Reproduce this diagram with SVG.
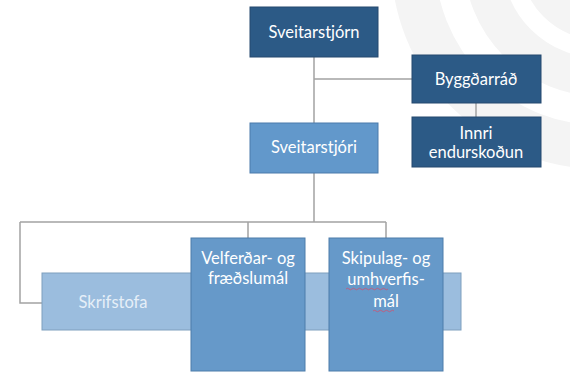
<svg xmlns="http://www.w3.org/2000/svg" width="570" height="373" viewBox="0 0 570 373">
<style>
.t{font-family:Lato,"Liberation Sans",sans-serif;font-size:16.5px;fill:#fff;text-anchor:middle}
.dark{fill:#2C5A86;stroke:#24496E;stroke-width:1}
.mid{fill:#6298CB;stroke:#4A7BAB;stroke-width:1}
.box{fill:#6699C9;stroke:#4C7CAA;stroke-width:1}
.light{fill:#9BBDDE;stroke:#7E9FBE;stroke-width:1}
.ln{fill:none;stroke:#A3A3A3;stroke-width:1.5}
.wm{fill:none;stroke:#F4F4F4}
</style>
<rect width="570" height="373" fill="#fff"/>
<g id="watermark">
<circle class="wm" cx="600" cy="-40" r="187" stroke-width="44"/>
<circle class="wm" cx="600" cy="-40" r="117" stroke-width="38"/>
<circle class="wm" cx="600" cy="-40" r="65" stroke-width="30"/>
</g>
<g id="connectors">
<path class="ln" d="M314 57V123M314 79H412M476 103V117M314 173V222M20 222H386M20 222V303H42M248 222V238M386 222V238"/>
</g>
<g id="skrifstofa">
<rect class="light" x="42" y="273" width="419" height="57"/>
<text class="t" x="113" y="308" style="fill:#E6EFF8">Skrifstofa</text>
</g>
<g id="sveitarstjorn">
<rect class="dark" x="250" y="7" width="128" height="50"/>
<text class="t" x="314" y="38">Sveitarstjórn</text>
</g>
<g id="byggdarrad">
<rect class="dark" x="412" y="55" width="129" height="48"/>
<text class="t" x="476" y="85">Byggðarráð</text>
</g>
<g id="innri">
<rect class="dark" x="412" y="117" width="129" height="50"/>
<text class="t" x="476" y="139">Innri</text>
<text class="t" x="476" y="158">endurskoðun</text>
</g>
<g id="sveitarstjori">
<rect class="mid" x="250" y="123" width="128" height="50"/>
<text class="t" x="314" y="153">Sveitarstjóri</text>
</g>
<g id="velferdar">
<rect class="box" x="191" y="238" width="114" height="133"/>
<text class="t" x="248" y="264">Velferðar- og</text>
<text class="t" x="248" y="284">fræðslumál</text>
</g>
<g id="skipulag">
<rect class="box" x="329" y="238" width="114" height="133"/>
<text class="t" x="386" y="264">Skipulag- og</text>
<text class="t" x="386" y="285">umhverfis-</text>
<text class="t" x="386" y="307">mál</text>
<path d="M346 289q1.5-1.5 3 0t3 0t3 0t3 0t3 0t3 0t3 0t3 0t3 0t3 0t3 0t3 0t3 0t3 0M373 311q1.5-1.5 3 0t3 0t3 0t3 0t3 0t3 0t3 0" fill="none" stroke="#D2506E" stroke-width="0.8"/>
</g>
</svg>
